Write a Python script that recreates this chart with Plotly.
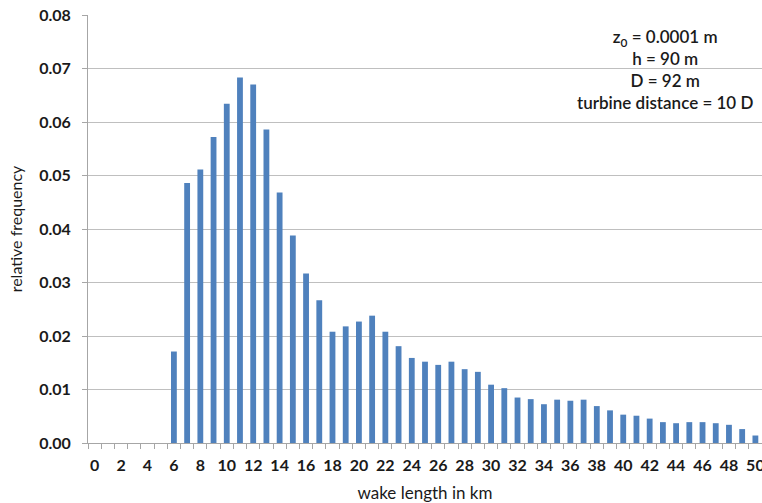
import plotly.graph_objects as go

wake_km = list(range(0, 51))
rel_freq = [0, 0, 0, 0, 0, 0,
            0.0171, 0.0486, 0.0511, 0.0572, 0.0634, 0.0683, 0.0670, 0.0586, 0.0468, 0.0388,
            0.0317, 0.0267, 0.0208, 0.0218, 0.0227, 0.0238, 0.0208, 0.0181, 0.0159, 0.0152,
            0.0146, 0.0152, 0.0138, 0.0133, 0.0109, 0.01025, 0.0085, 0.0082, 0.00725, 0.0081,
            0.0079, 0.0081, 0.0069, 0.0061, 0.0053, 0.0051, 0.00456, 0.0039, 0.0037, 0.0039,
            0.0039, 0.0037, 0.0034, 0.0026, 0.0014]
x_tick_vals = list(range(0, 51, 2))
y_tick_vals = [0, 0.01, 0.02, 0.03, 0.04, 0.05, 0.06, 0.07, 0.08]
info_lines = ["z<sub>0</sub> = 0.0001 m", "h = 90 m", "D = 92 m", "turbine distance = 10 D"]

FONT = "Lato, 'Open Sans', sans-serif"
TXT = "#1a1a1a"

fig = go.Figure()
fig.add_trace(go.Bar(x=wake_km, y=rel_freq, marker=dict(color="#4F81BD", line=dict(width=0)),
                     width=0.44))

fig.update_layout(
    width=762, height=503,
    margin=dict(l=88, r=0, t=15, b=60, autoexpand=False),
    plot_bgcolor="white", paper_bgcolor="white",
    showlegend=False,
    font=dict(family=FONT, color=TXT),
)
fig.update_xaxes(
    range=[-0.5, 50.5], tickmode="array", tickvals=x_tick_vals,
    ticktext=[str(v) for v in x_tick_vals],
    ticks="outside", ticklen=5, tickcolor="rgba(0,0,0,0)", ticklabelstandoff=3,
    ticklabeloverflow="allow",
    tickfont=dict(size=16, family=FONT, weight="bold", color=TXT),
    showgrid=False, showline=True, linecolor="#a6a6a6", linewidth=1,
    minor=dict(ticks="outside", tick0=0.5, dtick=1, ticklen=5, tickcolor="#a6a6a6", showgrid=False),
    title=dict(text="wake length in km", font=dict(size=17, family=FONT, color=TXT), standoff=13),
    zeroline=False, automargin=False,
)
fig.update_yaxes(
    range=[0, 0.08], tickmode="array", tickvals=y_tick_vals,
    ticktext=[f"{v:.2f}" for v in y_tick_vals],
    ticks="outside", ticklen=5, tickcolor="#a6a6a6", ticklabelstandoff=8,
    ticklabeloverflow="allow",
    tickfont=dict(size=16, family=FONT, weight="bold", color=TXT),
    showgrid=True, gridcolor="#bfbfbf", gridwidth=1,
    showline=True, linecolor="#a6a6a6", linewidth=1,
    title=dict(text="relative frequency", font=dict(size=16, family=FONT, color=TXT), standoff=12),
    zeroline=False, automargin=False,
)

fig.add_annotation(
    xref="paper", yref="paper", x=0.856, y=0.98, xanchor="center", yanchor="top",
    text="<br>".join(info_lines), showarrow=False, align="center",
    font=dict(size=17, family=FONT, color=TXT, weight=600),
)

fig.write_html("out.html", config={"displayModeBar": False},
               post_script="document.body.style.margin='0';")
